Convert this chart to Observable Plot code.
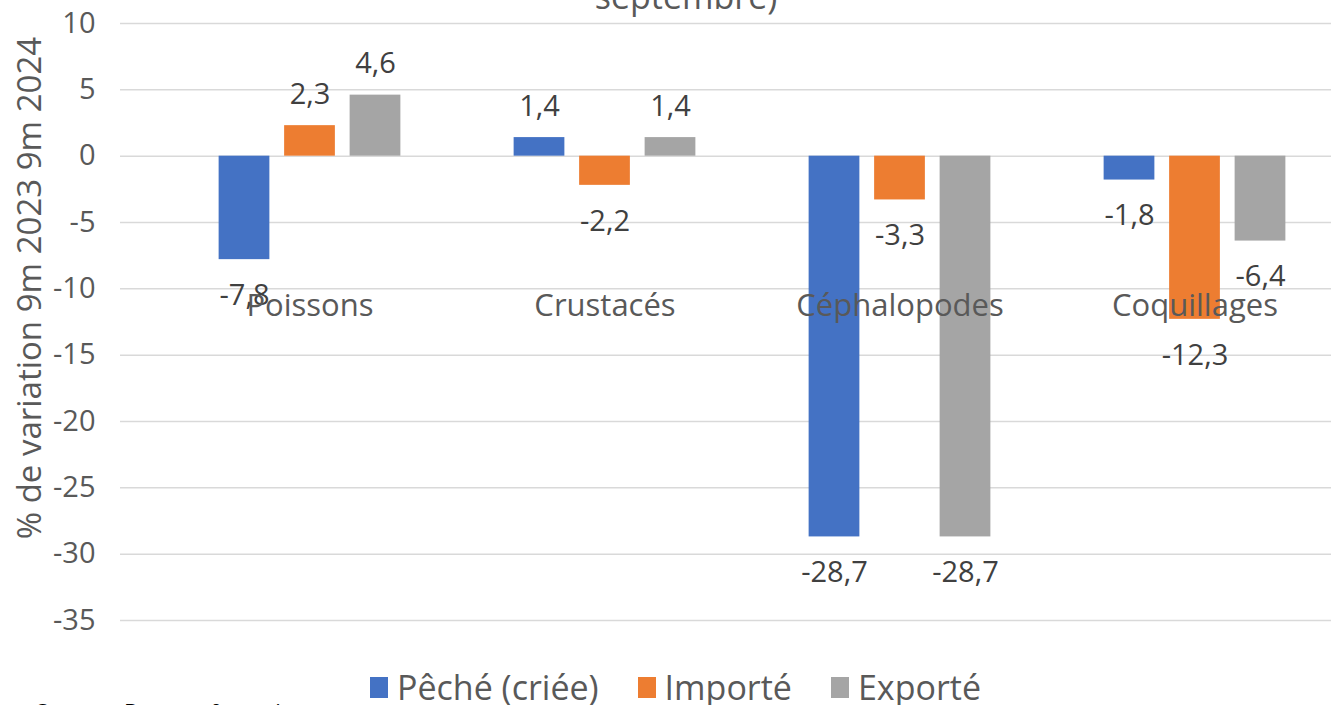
<!DOCTYPE html>
<html>
<head>
<meta charset="utf-8">
<script src="https://cdn.jsdelivr.net/npm/d3@7"></script>
<script src="https://cdn.jsdelivr.net/npm/@observablehq/plot@0.6"></script>
<style>
  html, body { margin: 0; padding: 0; background: #fff; overflow: hidden; }
  body { width: 1331px; height: 705px; position: relative; font-family: "Open Sans", "Noto Sans", sans-serif; }
  #title { position: absolute; top: -27px; left: 0; width: 1372px; text-align: center; font-size: 34px; color: #595959; white-space: nowrap; }
  #ylabel { position: absolute; left: 28px; top: 288px; transform: translate(-50%, -50%) rotate(-90deg); font-size: 33px; color: #595959; white-space: nowrap; }
  #chart { position: absolute; top: 0; left: 0; }
  #legend { position: absolute; top: 664px; left: 370px; display: flex; align-items: center; font-size: 34px; color: #595959; white-space: nowrap; }
  #legend .item { display: flex; align-items: center; margin-right: 39px; }
  #legend .sw { width: 18px; height: 21px; margin-right: 9px; }
  #caption { position: absolute; top: 696px; left: 36px; font-size: 22px; color: #000; white-space: nowrap; }
</style>
</head>
<body>
<div id="title">septembre)</div>
<div id="chart"></div>
<div id="ylabel">% de variation 9m 2023 9m 2024</div>
<div id="legend"></div>
<div id="caption">Source : Douane française</div>
<script>
const categories = ["Poissons", "Crustacés", "Céphalopodes", "Coquillages"];
const seriesNames = ["Pêché (criée)", "Importé", "Exporté"];
const seriesColors = ["#4472C4", "#ED7D31", "#A5A5A5"];
const peche = [-7.8, 1.4, -28.7, -1.8];
const importe = [2.3, -2.2, -3.3, -12.3];
const exporte = [4.6, 1.4, -28.7, -6.4];
const yTicks = [10, 5, 0, -5, -10, -15, -20, -25, -30, -35];

const seriesValues = [peche, importe, exporte];
const rows = [];
seriesValues.forEach((vals, si) => {
  vals.forEach((v, ci) => rows.push({cat: categories[ci], series: seriesNames[si], si, value: v}));
});

const fmt = v => v.toFixed(1).replace(".", ",");
const offsets = [-65.5, 0, 65.5];
const bandW = (1342.5 - 161.5) / 4;
const inset = (bandW - 51) / 2;
const FONT = "'Open Sans', 'Noto Sans', sans-serif";

const marks = [
  Plot.ruleY(yTicks, {stroke: "#D9D9D9", strokeWidth: 1.5, strokeOpacity: 1}),
  Plot.axisY({ticks: yTicks, tickSize: 0, tickPadding: 25, tickFormat: d => String(d), fontSize: 29, fill: "#595959", label: null}),
];
seriesNames.forEach((s, si) => {
  const data = rows.filter(r => r.si === si);
  marks.push(Plot.barY(data, {x: "cat", y: "value", fill: seriesColors[si], dx: offsets[si], insetLeft: inset, insetRight: inset}));
  marks.push(Plot.text(data.filter(r => r.value >= 0), {x: "cat", y: "value", text: r => fmt(r.value), dx: offsets[si], dy: -31, fontSize: 29, fill: "#404040", lineAnchor: "middle"}));
  marks.push(Plot.text(data.filter(r => r.value < 0), {x: "cat", y: "value", text: r => fmt(r.value), dx: offsets[si], dy: 36, fontSize: 29, fill: "#404040", lineAnchor: "middle"}));
});
marks.push(Plot.text(categories, {x: d => d, frameAnchor: "top", dy: 283, text: d => d, fontSize: 31, fill: "#595959", lineAnchor: "middle"}));

const chart = Plot.plot({
  width: 1331,
  height: 660,
  marginTop: 23,
  marginBottom: 40,
  marginLeft: 120,
  marginRight: 0,
  style: {fontFamily: FONT, background: "transparent", overflow: "visible"},
  x: {domain: categories, range: [161.5, 1342.5], padding: 0, axis: null},
  y: {domain: [-35, 10], axis: null},
  marks
});
document.getElementById("chart").appendChild(chart);

const legend = document.getElementById("legend");
seriesNames.forEach((s, i) => {
  const item = document.createElement("div");
  item.className = "item";
  const sw = document.createElement("div");
  sw.className = "sw";
  sw.style.background = seriesColors[i];
  const t = document.createElement("span");
  t.textContent = s;
  item.appendChild(sw);
  item.appendChild(t);
  legend.appendChild(item);
});
</script>
</body>
</html>
